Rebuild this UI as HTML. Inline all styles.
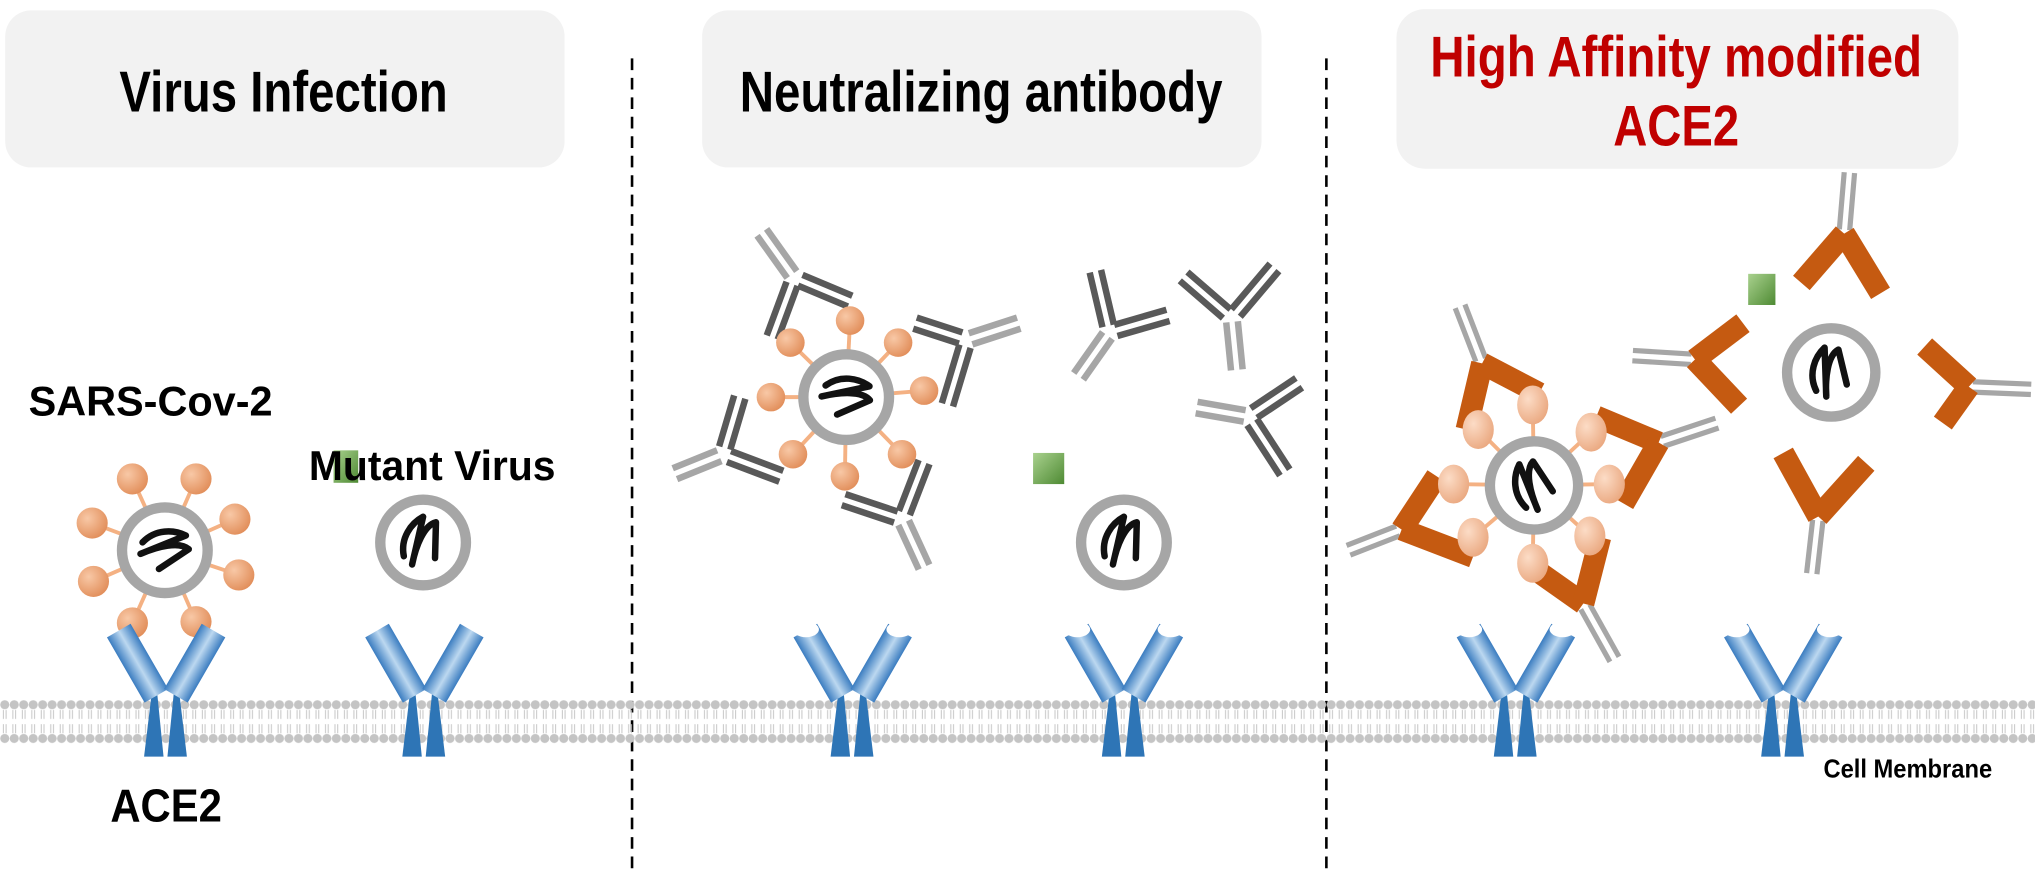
<!DOCTYPE html>
<html><head><meta charset="utf-8">
<style>
html,body{margin:0;padding:0;background:#fff;}
svg{display:block;}
text{font-family:"Liberation Sans Narrow","Liberation Sans",sans-serif;font-weight:bold;}
</style></head>
<body>
<svg id="s" width="2035" height="889" viewBox="0 0 1568 685" xmlns="http://www.w3.org/2000/svg">
<defs>
  <linearGradient id="bar" x1="0" y1="0" x2="1" y2="0">
    <stop offset="0" stop-color="#3a7cc0"/><stop offset="0.5" stop-color="#bcd8f0"/><stop offset="1" stop-color="#3a7cc0"/>
  </linearGradient>
  <radialGradient id="ball" cx="0.35" cy="0.35" r="0.75">
    <stop offset="0" stop-color="#f8c8a6"/><stop offset="1" stop-color="#e08a55"/>
  </radialGradient>
  <radialGradient id="ball2" cx="0.35" cy="0.35" r="0.75">
    <stop offset="0" stop-color="#fcdcc6"/><stop offset="1" stop-color="#e9a57c"/>
  </radialGradient>
  <linearGradient id="grn" x1="0" y1="0" x2="1" y2="1">
    <stop offset="0" stop-color="#a9d18e"/><stop offset="1" stop-color="#4e8a33"/>
  </linearGradient>
  <pattern id="mem" x="0" y="538" width="7.3" height="40" patternUnits="userSpaceOnUse">
    <circle cx="3.65" cy="5" r="3.5" fill="#c4c4c4"/>
    <circle cx="3.65" cy="31" r="3.5" fill="#c4c4c4"/>
    <path d="M2.6,9 V16 M4.7,9 V16 M2.6,20 V27 M4.7,20 V27" stroke="#c8c8c8" stroke-width="0.8" fill="none"/>
  </pattern>
</defs>
<rect width="1568" height="685" fill="#fff"/>
<rect x="4" y="8" width="431" height="121" rx="20" fill="#f2f2f2"/>
<rect x="541" y="8" width="431" height="121" rx="20" fill="#f2f2f2"/>
<rect x="1076" y="7" width="433" height="123" rx="22" fill="#f2f2f2"/>
<text x="92" y="86" font-size="44" textLength="253" lengthAdjust="spacingAndGlyphs">Virus Infection</text>
<text x="570" y="86" font-size="44" textLength="372" lengthAdjust="spacingAndGlyphs">Neutralizing antibody</text>
<text x="1102" y="59" font-size="44" fill="#c00000" textLength="379" lengthAdjust="spacingAndGlyphs">High Affinity modified</text>
<text x="1243" y="112" font-size="44" fill="#c00000" textLength="97" lengthAdjust="spacingAndGlyphs">ACE2</text>
<line x1="487" y1="45" x2="487" y2="670" stroke="#000" stroke-width="2" stroke-dasharray="9,6"/>
<line x1="1022" y1="45" x2="1022" y2="670" stroke="#000" stroke-width="2" stroke-dasharray="9,6"/>
<rect x="0" y="538" width="1568" height="40" fill="url(#mem)"/>
<g id="dyn"></g>
<text x="22" y="320" font-size="32" textLength="188" lengthAdjust="spacingAndGlyphs">SARS-Cov-2</text>
<rect x="257" y="347" width="19" height="25" fill="url(#grn)"/>
<text x="238" y="370" font-size="32" textLength="190" lengthAdjust="spacingAndGlyphs">Mutant Virus</text>
<text x="85" y="633" font-size="36" textLength="86" lengthAdjust="spacingAndGlyphs">ACE2</text>
<text x="1405" y="599" font-size="20" textLength="130" lengthAdjust="spacingAndGlyphs">Cell Membrane</text>
</svg>
<script>
var NS="http://www.w3.org/2000/svg",G=document.getElementById("dyn");
function el(t,a){var e=document.createElementNS(NS,t);for(var k in a)e.setAttribute(k,a[k]);G.appendChild(e);return e;}
function dbl(x1,y1,x2,y2,c,w,g){var dx=x2-x1,dy=y2-y1,L=Math.hypot(dx,dy),px=-dy/L*g/2,py=dx/L*g/2;
 el("line",{x1:x1+px,y1:y1+py,x2:x2+px,y2:y2+py,stroke:c,"stroke-width":w});
 el("line",{x1:x1-px,y1:y1-py,x2:x2-px,y2:y2-py,stroke:c,"stroke-width":w});}
function from(J,P,d){var dx=P[0]-J[0],dy=P[1]-J[1],L=Math.hypot(dx,dy);return [J[0]+dx/L*d,J[1]+dy/L*d];}
function abGray(J,S,A,B){var s=from(J,S,3);dbl(s[0],s[1],S[0],S[1],"#a6a6a6",5,9);
 var a=from(J,A,5);dbl(a[0],a[1],A[0],A[1],"#595959",5,9);var b=from(J,B,5);dbl(b[0],b[1],B[0],B[1],"#595959",5,9);}
function abOr(J,S,A,B){var s=from(J,S,3);dbl(s[0],s[1],S[0],S[1],"#a6a6a6",4,8);
 [A,B].forEach(function(P){el("line",{x1:J[0],y1:J[1],x2:P[0],y2:P[1],stroke:"#c55a11","stroke-width":17});});}
function virus(cx,cy,r,rot){
 el("circle",{cx:cx,cy:cy,r:r-4,fill:"#fff",stroke:"#a6a6a6","stroke-width":8});
 el("path",{d:"M-18,-3 C-10,-15 4,-17 14,-14 L-18,6 C-6,-2 10,-9 18,-4 L-2,15",transform:"translate("+cx+","+cy+") rotate("+(rot||0)+")",fill:"none",stroke:"#111","stroke-width":5,"stroke-linejoin":"round","stroke-linecap":"round"});}
function balls(cx,cy,pts,g,rx,ry){pts.forEach(function(p){el("line",{x1:cx,y1:cy,x2:p[0],y2:p[1],stroke:"#f4b183","stroke-width":3});});
 pts.forEach(function(p){el("ellipse",{cx:p[0],cy:p[1],rx:rx,ry:ry,fill:"url(#"+g+")"});});}
function receptor(cx,notch){
 el("polygon",{points:(cx-16)+",583 "+(cx-1)+",583 "+(cx-6)+",533 "+(cx-10)+",533",fill:"#2e75b6"});
 el("polygon",{points:(cx+2)+",583 "+(cx+17)+",583 "+(cx+11)+",533 "+(cx+7)+",533",fill:"#2e75b6"});
 el("rect",{x:-10.5,y:-29,width:21,height:58,fill:"url(#bar)",transform:"translate("+(cx-21)+",511) rotate(-30)"});
 el("rect",{x:-10.5,y:-29,width:21,height:58,fill:"url(#bar)",transform:"translate("+(cx+23)+",511) rotate(30)"});
 if(notch){el("ellipse",{cx:cx-35,cy:485,rx:10,ry:6,fill:"#fff"});el("ellipse",{cx:cx+37,cy:485,rx:10,ry:6,fill:"#fff"});}
}
balls(127,424,[[102,369],[151,369],[71,403],[181,400],[72,448],[184,443],[102,480],[151,479]],"ball",12,12);
virus(127,424,37,10);
virus(326,418,37,-45);
receptor(127,false);receptor(326,false);
abGray([612,214],[587,179],[655,232],[595,260]);
abGray([745,262],[785,249],[705,249],[730,312]);
abGray([557,350],[520,365],[570,306],[602,367]);
abGray([695,400],[712,437],[650,385],[712,356]);
balls(652,306,[[655,247],[609,264],[692,264],[594,306],[712,301],[611,350],[695,350],[651,367]],"ball",11,11);
virus(652,306,37,20);
abGray([855,256],[831,290],[844,209],[900,243]);
abGray([949,245],[953,285],[912,213],[982,206]);
abGray([962,321],[922,314],[1001,295],[990,364]);
el("rect",{x:796,y:349,width:24,height:24,fill:"url(#grn)"});
virus(866,418,37,-45);
receptor(656,true);receptor(865,true);
abOr([1142,280],[1125,236],[1130,331],[1186,303]);
abOr([1278,341],[1323,326],[1230,321],[1251,388]);
abOr([1080,408],[1039,424],[1107,367],[1135,429]);
abOr([1220,465],[1244,508],[1176,434],[1233,414]);
balls(1182,374,[[1181,312],[1139,331],[1226,333],[1120,373],[1240,373],[1135,414],[1225,413],[1181,434]],"ball2",12,15);
virus(1182,374,38,-80);
abOr([1421,180],[1425,133],[1388,218],[1449,226]);
abOr([1306,277],[1258,274],[1343,249],[1340,313]);
abOr([1517,298],[1565,300],[1483,267],[1497,326]);
abOr([1401,398],[1396,442],[1374,349],[1438,357]);
el("rect",{x:1347,y:211,width:21,height:24,fill:"url(#grn)"});
virus(1411,287,38,-60);
receptor(1167,true);receptor(1373,true);
</script>
</body></html>
